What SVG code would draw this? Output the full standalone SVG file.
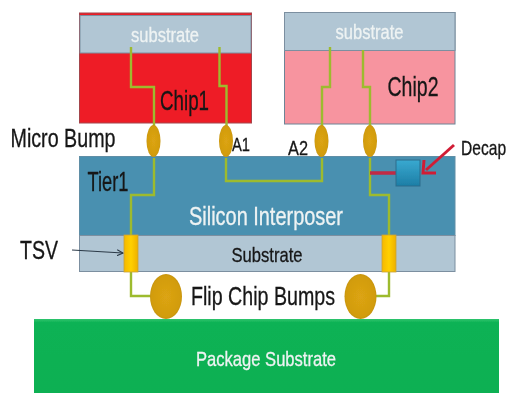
<svg xmlns="http://www.w3.org/2000/svg" width="507" height="393" viewBox="0 0 507 393">
<style>
text{font-family:"Liberation Sans",Arial,sans-serif;text-anchor:middle}
.d{fill:#161616;stroke:#161616;stroke-width:.3}.w{fill:#eef3f3;stroke:#eef3f3;stroke-width:.3}
.sub{fill:#b1c6d4;stroke:#7b8fa0;stroke-width:1}
.wire{fill:none;stroke:#9dbb2e;stroke-width:2.400}
.bump{fill:url(#gold)}
.tsv{fill:url(#tsvg);stroke:#c9a23a;stroke-width:.8}
</style>
<defs>
<radialGradient id="gold" cx=".5" cy=".5" r=".6"><stop offset="0" stop-color="#dca412"/><stop offset=".75" stop-color="#d29c10"/><stop offset="1" stop-color="#b08410"/></radialGradient>
<linearGradient id="tsvg" x1="0" x2="1" y1="0" y2="0"><stop offset="0" stop-color="#f5b800"/><stop offset=".5" stop-color="#ffd000"/><stop offset="1" stop-color="#eeb000"/></linearGradient>
<linearGradient id="dec" x1="0" x2="0" y1="0" y2="1"><stop offset="0" stop-color="#39a9d0"/><stop offset="1" stop-color="#1d7ea6"/></linearGradient>
<linearGradient id="pkg" x1="0" x2="0" y1="0" y2="1"><stop offset="0" stop-color="#2fc46e"/><stop offset=".05" stop-color="#0fb254"/><stop offset="1" stop-color="#0fb052"/></linearGradient>
<marker id="ah" markerWidth="7" markerHeight="7" refX="6" refY="3.500" orient="auto" markerUnits="userSpaceOnUse"><path d="M0 .5L6 3.500L0 6.500" fill="none" stroke="#2c3a48" stroke-width="1.200"/></marker>
<filter id="soft" x="-2%" y="-2%" width="104%" height="104%"><feGaussianBlur stdDeviation=".45"/></filter>
</defs>
<g filter="url(#soft)">
<g id="chip1"><rect x="79.500" y="13" width="172" height="110" fill="#ee1c25" stroke="#a4454c"/><rect class="sub" x="80" y="15.500" width="171" height="37.500"/><text class="w" x="165" y="42" font-size="20" textLength="68" lengthAdjust="spacingAndGlyphs">substrate</text><text class="d" x="184.500" y="110" font-size="28" textLength="49" lengthAdjust="spacingAndGlyphs">Chip1</text></g>
<g id="chip2"><rect x="284.500" y="12.500" width="170.500" height="111.500" fill="#f7949f" stroke="#6d8496"/><rect class="sub" x="284.500" y="12.500" width="170.500" height="38"/><text class="w" x="369.500" y="39" font-size="20" textLength="68" lengthAdjust="spacingAndGlyphs">substrate</text><text class="d" x="413" y="96" font-size="28" textLength="51" lengthAdjust="spacingAndGlyphs">Chip2</text></g>
<g id="interposer"><rect x="79.500" y="156.500" width="375.500" height="79" fill="#4a90b0" stroke="#5e8ea6"/><text class="d" x="108" y="191" font-size="27" textLength="41" lengthAdjust="spacingAndGlyphs">Tier1</text><text class="w" x="266" y="225" font-size="26" textLength="154" lengthAdjust="spacingAndGlyphs">Silicon Interposer</text></g>
<g id="substrate"><rect class="sub" x="79.500" y="235.500" width="375.500" height="36"/><text class="d" x="267" y="262" font-size="21" textLength="71" lengthAdjust="spacingAndGlyphs">Substrate</text></g>
<g id="package"><rect x="34" y="319" width="465" height="74" fill="url(#pkg)"/><text class="w" x="266" y="366" font-size="21" textLength="140" lengthAdjust="spacingAndGlyphs">Package Substrate</text></g>
<g id="connectors">
<path class="wire" d="M131 47V87H154V127M154 158V195H131V236M131 272V296H152"/>
<path class="wire" d="M219.500 47V86H226.500V127M226 158V181H322V158M322 127V87H330V47"/>
<path class="wire" d="M363 50V87H370V127M370 158V195H389V236M389 272V296H376"/>
<path fill="none" stroke="#c12a45" stroke-width="3.500" d="M370 173H397"/>
<path fill="none" stroke="#d11f36" stroke-width="3" d="M454 145L426 170"/>
<path fill="none" stroke="#d11f36" stroke-width="3" d="M424 160L423 173L436 173"/>
<path fill="none" stroke="#2c3a48" stroke-width="1.100" marker-end="url(#ah)" d="M72 250L123 253"/>
</g>
<g id="decap"><rect x="396" y="160" width="24" height="26" fill="url(#dec)" stroke="#2a6d8c"/></g>
<g id="bump-1"><ellipse class="bump" cx="153.500" cy="141" rx="7" ry="16"/></g>
<g id="bump-2"><ellipse class="bump" cx="226" cy="141" rx="7" ry="16"/></g>
<g id="bump-3"><ellipse class="bump" cx="321.500" cy="141" rx="7" ry="16"/></g>
<g id="bump-4"><ellipse class="bump" cx="370" cy="141" rx="7" ry="16"/></g>
<g id="tsv-1"><rect class="tsv" x="124" y="235" width="14" height="37"/></g>
<g id="tsv-2"><rect class="tsv" x="382" y="235" width="14" height="37"/></g>
<g id="flip-1"><ellipse class="bump" cx="166" cy="296.500" rx="16" ry="22.500"/></g>
<g id="flip-2"><ellipse class="bump" cx="360.500" cy="296.500" rx="16" ry="22.500"/></g>
<g id="labels">
<text class="d" x="63" y="147" font-size="25" textLength="105" lengthAdjust="spacingAndGlyphs">Micro Bump</text>
<text class="d" x="241" y="151" font-size="19" textLength="18" lengthAdjust="spacingAndGlyphs">A1</text>
<text class="d" x="298" y="155" font-size="21" textLength="20" lengthAdjust="spacingAndGlyphs">A2</text>
<text class="d" transform="translate(461 155) scale(.78 1)" x="0" y="0" font-size="20" style="text-anchor:start">Decap</text>
<text class="d" x="39" y="259" font-size="26" textLength="38" lengthAdjust="spacingAndGlyphs">TSV</text>
<text class="d" x="263" y="305" font-size="25" textLength="144" lengthAdjust="spacingAndGlyphs">Flip Chip Bumps</text>
</g>
</g>
</svg>
